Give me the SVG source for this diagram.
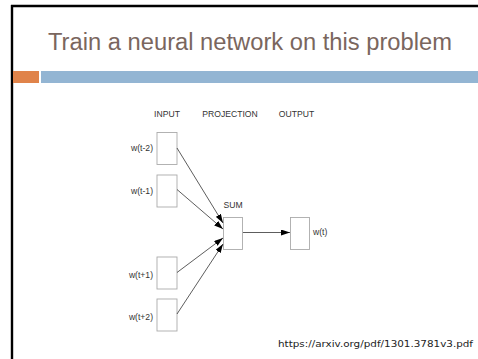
<svg xmlns="http://www.w3.org/2000/svg" width="478" height="359" viewBox="0 0 478 359">
<defs>
<marker id="ah" markerWidth="9" markerHeight="6" refX="9" refY="3" orient="auto" markerUnits="userSpaceOnUse">
<path d="M0,0 L9,3 L0,6 Z" fill="#000"/>
</marker>
<style>
.lbl{font-family:"Liberation Sans",Arial,sans-serif;font-size:8.6px;fill:#333}
.box{fill:#fff;stroke:#aaa;stroke-width:0.9}
.con{stroke:#333;stroke-width:0.8;fill:none;marker-end:url(#ah)}
</style>
</defs>
<rect x="0" y="0" width="478" height="359" fill="#fff"/>
<line x1="11" y1="6" x2="478" y2="6" stroke="#000" stroke-width="2.4"/>
<line x1="12" y1="5" x2="12" y2="359" stroke="#000" stroke-width="2.4"/>
<text x="48" y="50" font-family="'Liberation Sans',Arial,sans-serif" font-size="23" fill="#7a665e" textLength="404" lengthAdjust="spacingAndGlyphs">Train a neural network on this problem</text>
<rect x="13" y="71" width="26" height="12" fill="#e0834a"/>
<rect x="41" y="71" width="437" height="12" fill="#93b5d3"/>
<text class="lbl" x="167" y="117" text-anchor="middle">INPUT</text>
<text class="lbl" x="230" y="117" text-anchor="middle">PROJECTION</text>
<text class="lbl" x="296.5" y="117" text-anchor="middle">OUTPUT</text>
<g id="in1"><rect class="box" x="157" y="132.5" width="20" height="32"/><text class="lbl" x="153" y="151" text-anchor="end">w(t-2)</text></g>
<g id="in2"><rect class="box" x="157" y="175" width="20" height="32"/><text class="lbl" x="153" y="194" text-anchor="end">w(t-1)</text></g>
<g id="in3"><rect class="box" x="157" y="257" width="20" height="32"/><text class="lbl" x="153" y="278" text-anchor="end">w(t+1)</text></g>
<g id="in4"><rect class="box" x="157" y="299" width="20" height="32"/><text class="lbl" x="153" y="319.5" text-anchor="end">w(t+2)</text></g>
<g id="sum"><rect class="box" x="223.5" y="217.5" width="19" height="32"/><text class="lbl" x="233" y="208" text-anchor="middle">SUM</text></g>
<g id="out"><rect class="box" x="290.5" y="217.5" width="19" height="32"/><text class="lbl" x="313" y="235">w(t)</text></g>
<g id="connectors">
<line class="con" x1="177" y1="148" x2="223" y2="223"/>
<line class="con" x1="177" y1="189.5" x2="223" y2="229"/>
<line class="con" x1="177" y1="272.5" x2="223" y2="238"/>
<line class="con" x1="177" y1="314" x2="223" y2="244"/>
<line class="con" x1="243" y1="232.5" x2="290" y2="232.5"/>
</g>
<text x="473" y="347" text-anchor="end" font-family="'DejaVu Sans',sans-serif" font-size="8.5" fill="#222" textLength="195" lengthAdjust="spacingAndGlyphs">https://arxiv.org/pdf/1301.3781v3.pdf</text>
</svg>
